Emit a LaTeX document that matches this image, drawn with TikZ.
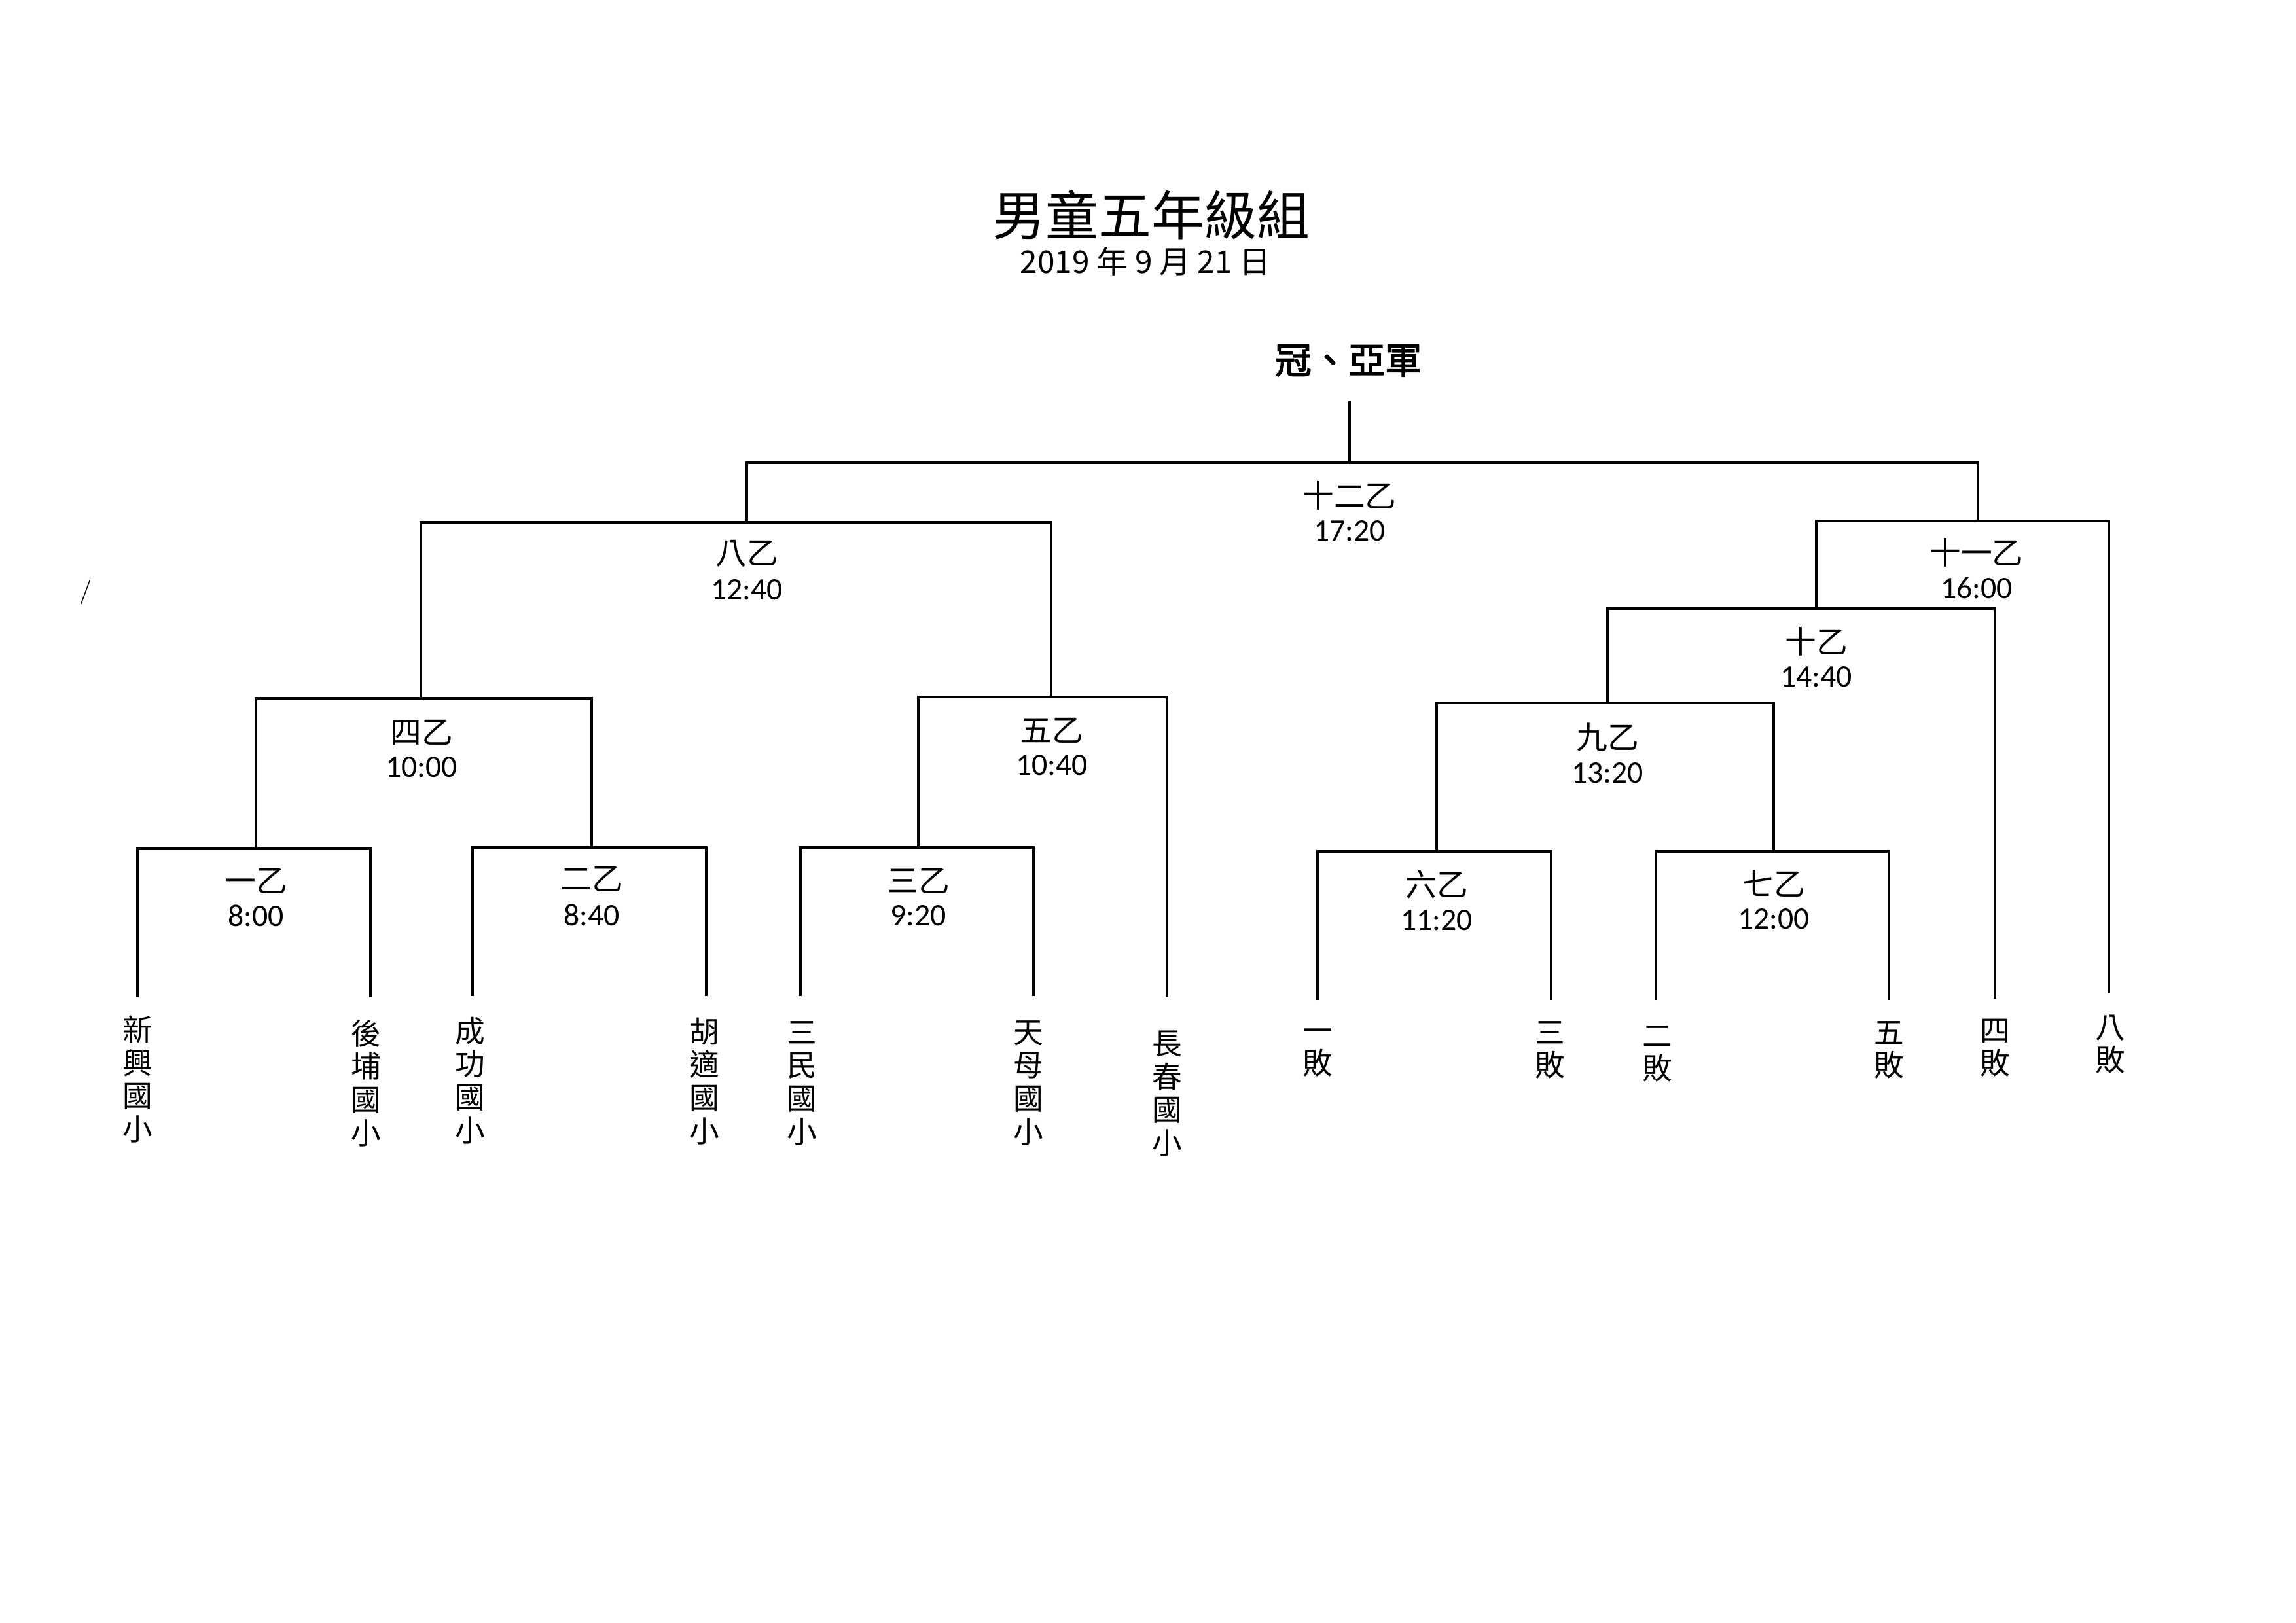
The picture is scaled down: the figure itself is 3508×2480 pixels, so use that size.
\documentclass[tikz,border=0pt]{standalone}
\usepackage{fontspec}
\newfontfamily\cjk{Noto Sans CJK TC}
\newfontfamily\cjkbf[AutoFakeBold=2.5]{Noto Sans CJK TC}
\newfontfamily\timefont{Carlito}
\newcommand\toprow{\vphantom{國}}
\tikzset{bracket/.style={line width=0.95pt},
  gamename/.style={font=\cjk\fontsize{11.5}{13}\selectfont, inner sep=0pt},
  gametime/.style={font=\timefont\fontsize{11.5}{13}\selectfont, inner sep=0pt},
  team/.style={font=\cjk\fontsize{11}{12.2}\selectfont, align=center, anchor=north, inner sep=0pt}}

\begin{document}
\begin{tikzpicture}[x=0.084667mm, y=-0.084667mm]
\useasboundingbox (0,0) rectangle (3508,2480);
\node[font=\cjk\fontsize{19.5}{22}\selectfont] (title) at (1759,328) {男童五年級組};
\node[font=\cjk\fontsize{11.5}{13}\selectfont] (date) at (1750,399) {2019 年 9 月 21 日};
\node[font=\cjkbf\bfseries\fontsize{13.5}{15}\selectfont] (final) at (2060,551) {冠、亞軍};
\node[font=\fontsize{9}{10}\selectfont] (slash) at (131,905) {/};

\coordinate (top) at (2062,613);
\coordinate (g1) at (391,1297);
\coordinate (g2) at (904,1295);
\coordinate (g3) at (1403,1295);
\coordinate (g4) at (643,1067);
\coordinate (g5) at (1606,1065);
\coordinate (g6) at (2195,1301);
\coordinate (g7) at (2710,1301);
\coordinate (g8) at (1141,798);
\coordinate (g9) at (2456,1074);
\coordinate (g10) at (2775,930);
\coordinate (g11) at (3022,796);
\coordinate (g12) at (2062,707);

\coordinate (t1) at (210,1524);
\coordinate (t2) at (566,1524);
\coordinate (t3) at (722,1522);
\coordinate (t4) at (1079,1522);
\coordinate (t5) at (1223,1522);
\coordinate (t6) at (1579,1522);
\coordinate (t7) at (1783,1524);
\coordinate (t8) at (2013,1528);
\coordinate (t9) at (2370,1528);
\coordinate (t10) at (2530,1528);
\coordinate (t11) at (2886,1528);
\coordinate (t12) at (3048,1526);
\coordinate (t13) at (3222,1518);

\draw[bracket] (t1) |- (g1) -| (t2);
\draw[bracket] (t3) |- (g2) -| (t4);
\draw[bracket] (t5) |- (g3) -| (t6);
\draw[bracket] (t8) |- (g6) -| (t9);
\draw[bracket] (t10) |- (g7) -| (t11);
\draw[bracket] (g1) |- (g4) -| (g2);
\draw[bracket] (g3) |- (g5) -| (t7);
\draw[bracket] (g6) |- (g9) -| (g7);
\draw[bracket] (g4) |- (g8) -| (g5);
\draw[bracket] (g9) |- (g10) -| (t12);
\draw[bracket] (g10) |- (g11) -| (t13);
\draw[bracket] (g8) |- (g12) -| (g11);
\draw[bracket] (g12) -- (top);

\node[gamename] (n1) at (391,1346) {一乙};
\node[gametime] (s1) at (391,1399) {8:00};
\node[gamename] (n2) at (904,1343) {二乙};
\node[gametime] (s2) at (904,1398) {8:40};
\node[gamename] (n3) at (1403,1346) {三乙};
\node[gametime] (s3) at (1403,1399) {9:20};
\node[gamename] (n4) at (644,1119) {四乙};
\node[gametime] (s4) at (644,1172) {10:00};
\node[gamename] (n5) at (1607,1116) {五乙};
\node[gametime] (s5) at (1607,1169) {10:40};
\node[gamename] (n6) at (2195,1351) {六乙};
\node[gametime] (s6) at (2195,1406) {11:20};
\node[gamename] (n7) at (2710,1350) {七乙};
\node[gametime] (s7) at (2710,1404) {12:00};
\node[gamename] (n8) at (1141,846) {八乙};
\node[gametime] (s8) at (1141,901) {12:40};
\node[gamename] (n9) at (2456,1127) {九乙};
\node[gametime] (s9) at (2456,1181) {13:20};
\node[gamename] (n10) at (2775,980) {十乙};
\node[gametime] (s10) at (2775,1034) {14:40};
\node[gamename] (n11) at (3020,844) {十一乙};
\node[gametime] (s11) at (3020,899) {16:00};
\node[gamename] (n12) at (2062,757) {十二乙};
\node[gametime] (s12) at (2062,811) {17:20};

\node[team] (a1) at (210,1551) {\toprow 新\\興\\國\\小};
\node[team] (a2) at (559,1557) {\toprow 後\\埔\\國\\小};
\node[team] (a3) at (718,1553) {\toprow 成\\功\\國\\小};
\node[team] (a4) at (1076,1554) {\toprow 胡\\適\\國\\小};
\node[team] (a5) at (1225,1557) {\toprow 三\\民\\國\\小};
\node[team] (a6) at (1571,1557) {\toprow 天\\母\\國\\小};
\node[team] (a7) at (1783,1574) {\toprow 長\\春\\國\\小};
\node[team] (a8) at (2013,1554) {\toprow 一\\敗};
\node[team] (a9) at (2368,1557) {\toprow 三\\敗};
\node[team] (a10) at (2532,1562) {\toprow 二\\敗};
\node[team] (a11) at (2886,1557) {\toprow 五\\敗};
\node[team] (a12) at (3048,1554) {\toprow 四\\敗};
\node[team] (a13) at (3224,1549) {\toprow 八\\敗};
\end{tikzpicture}
\end{document}
